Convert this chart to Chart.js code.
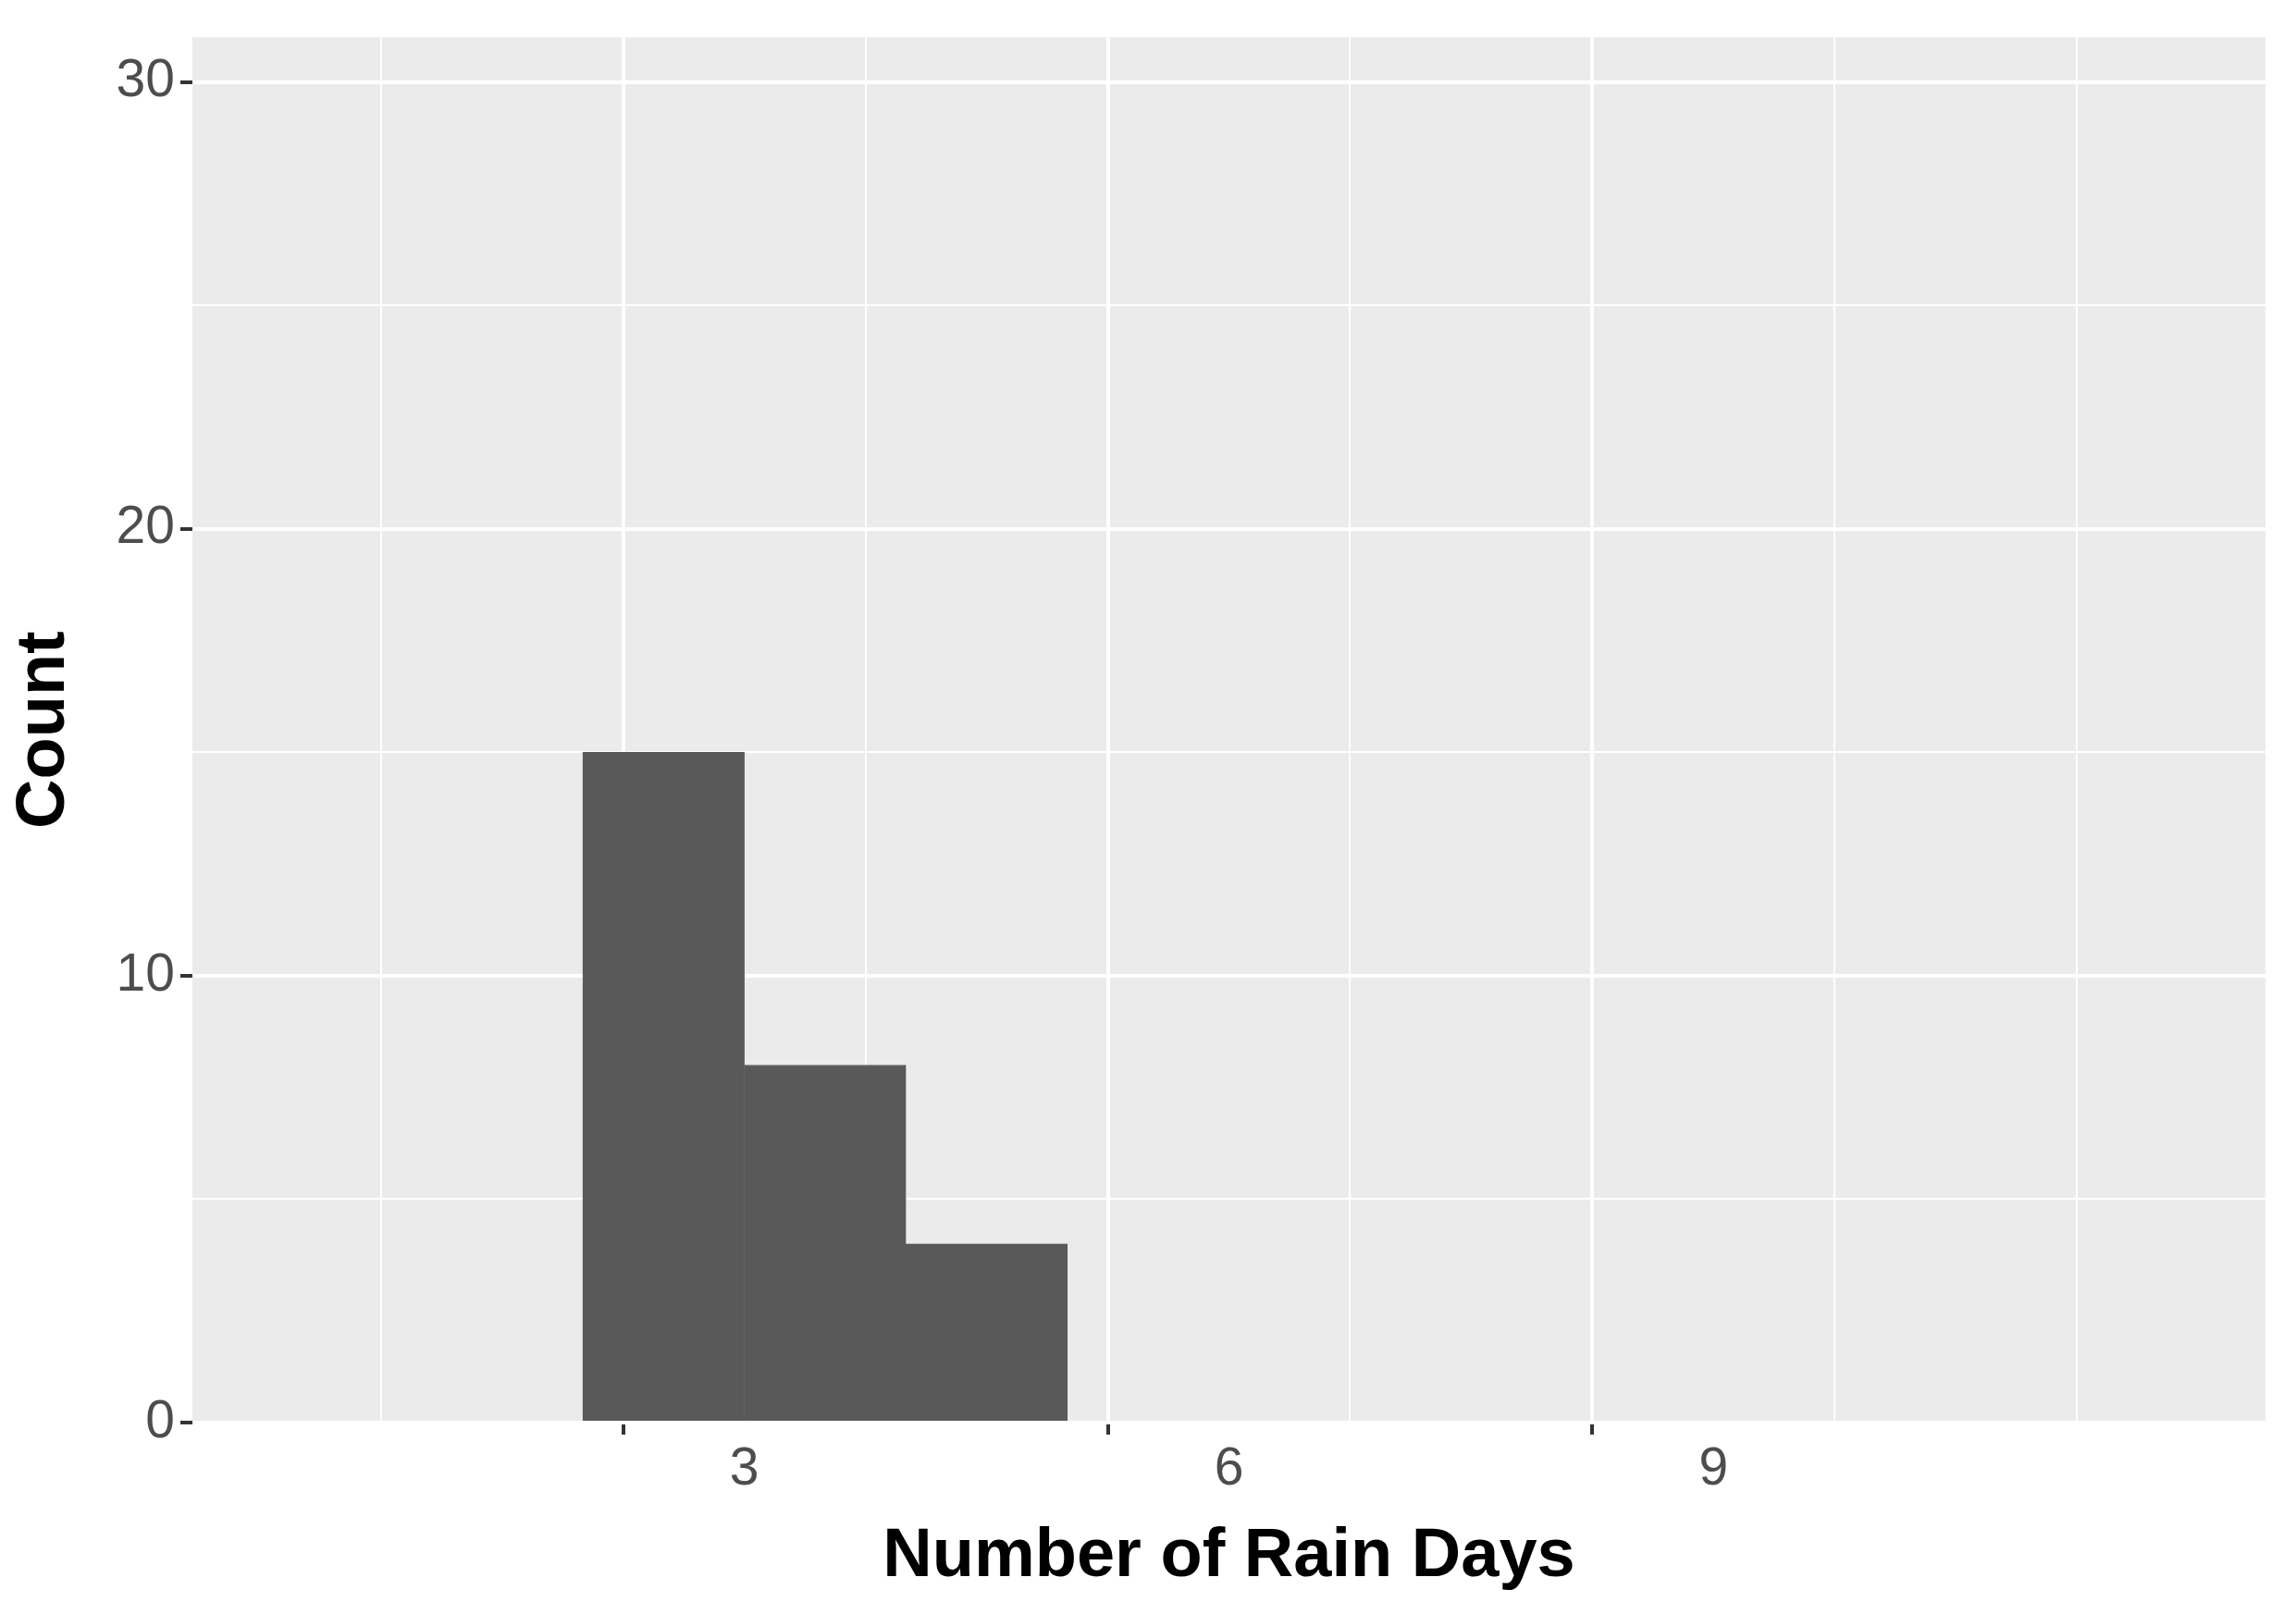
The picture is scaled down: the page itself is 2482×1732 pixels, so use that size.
<!DOCTYPE html>
<html>
<head>
<meta charset="utf-8">
<script src="https://cdn.jsdelivr.net/npm/chart.js@4/dist/chart.umd.min.js"></script>
<style>
  html, body { margin: 0; padding: 0; background: #fff; }
  #wrap { width: 2482px; height: 1732px; }
</style>
</head>
<body>
<div id="wrap"><canvas id="c"></canvas></div>
<script>
// histogram bins (centers, width 1) and counts
const binCenters = [2.5, 3.5, 4.5, 5.5, 6.5, 7.5, 8.5, 9.5, 10.5];
const counts     = [15, 8, 4, 0, 0, 0, 0, 0, 0];
const xTicks = [1.5, 3, 4.5, 6, 7.5, 9, 10.5];
const xMajor = [3, 6, 9];
const yTicks = [0, 5, 10, 15, 20, 25, 30];
const yMajor = [0, 10, 20, 30];

// grey panel behind the plot
const panelBg = {
  id: 'panelBg',
  beforeDraw(chart) {
    const a = chart.chartArea, ctx = chart.ctx;
    ctx.save();
    ctx.fillStyle = '#ebebeb';
    ctx.fillRect(a.left, a.top, a.right - a.left, a.bottom - a.top);
    ctx.restore();
  }
};

const isMajor = (list, c) => !!(c && c.tick && list.includes(c.tick.value));

new Chart(document.getElementById('c'), {
  type: 'bar',
  data: {
    datasets: [{
      data: binCenters.map((x, i) => ({ x: x, y: counts[i] })),
      backgroundColor: '#595959',
      borderColor: '#595959',
      borderWidth: 1,
      borderSkipped: false,
      barPercentage: 1,
      categoryPercentage: 1
    }]
  },
  options: {
    responsive: true,
    maintainAspectRatio: false,
    animation: false,
    layout: { padding: { top: 18, right: 33, left: 0, bottom: 0 } },
    plugins: { legend: { display: false }, tooltip: { enabled: false } },
    scales: {
      x: {
        type: 'linear',
        min: 0.5, max: 11.5,
        afterBuildTicks: s => { s.ticks = xTicks.map(v => ({ value: v })); },
        afterFit: s => { s.height = 194; },
        grid: {
          color: '#ffffff',
          lineWidth: c => isMajor(xMajor, c) ? 4 : 2,
          tickColor: c => isMajor(xMajor, c) ? '#333333' : 'rgba(0,0,0,0)',
          tickLength: 13,
          tickWidth: 4
        },
        border: { display: false },
        ticks: {
          autoSkip: false,
          maxRotation: 0,
          padding: 4,
          color: '#4d4d4d',
          font: { family: 'Liberation Sans', size: 57 },
          callback: v => xMajor.includes(v) ? String(v) : ''
        },
        title: {
          display: true,
          text: 'Number of Rain Days',
          color: '#000',
          padding: { top: 0 },
          font: { family: 'Liberation Sans', size: 74, weight: 'bold' }
        }
      },
      y: {
        min: 0, max: 31,
        afterBuildTicks: s => { s.ticks = yTicks.map(v => ({ value: v })); },
        afterFit: s => { s.width = 208; },
        grid: {
          color: '#ffffff',
          lineWidth: c => isMajor(yMajor, c) ? 4 : 2,
          tickColor: c => isMajor(yMajor, c) ? '#333333' : 'rgba(0,0,0,0)',
          tickLength: 13,
          tickWidth: 4
        },
        border: { display: false },
        ticks: {
          autoSkip: false,
          padding: 6,
          color: '#4d4d4d',
          font: { family: 'Liberation Sans', size: 57 },
          callback: v => yMajor.includes(v) ? String(v) : ''
        },
        title: {
          display: true,
          text: 'Count',
          color: '#000',
          padding: { bottom: 0 },
          font: { family: 'Liberation Sans', size: 74, weight: 'bold' }
        }
      }
    }
  },
  plugins: [panelBg]
});
</script>
</body>
</html>
